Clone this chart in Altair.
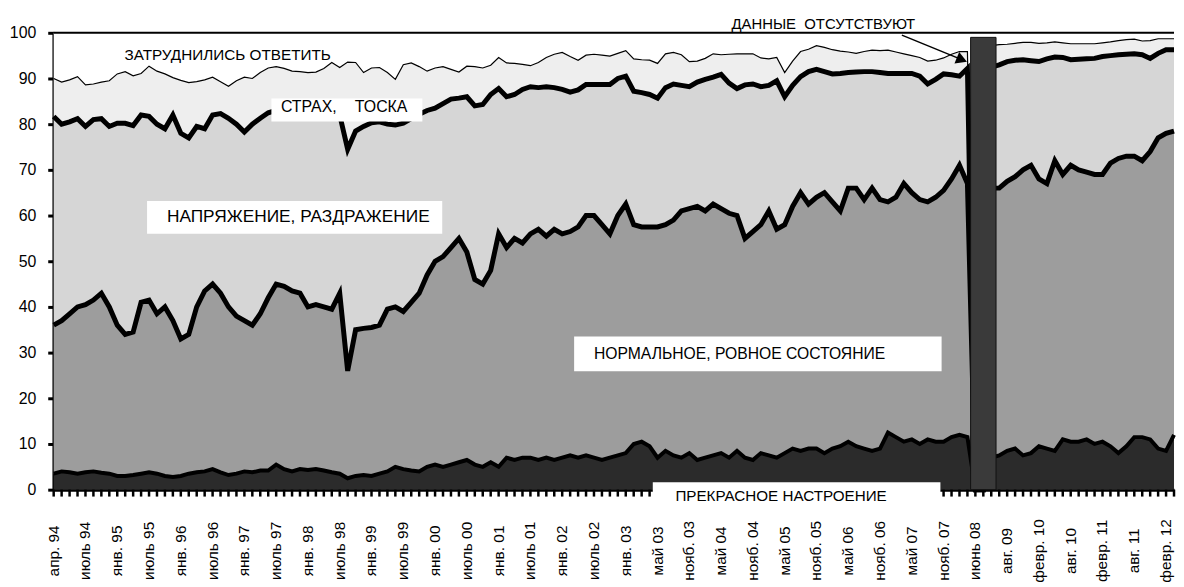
import altair as alt
import pandas as pd

labels = ["апр. 94", "июль 94", "янв. 95", "июль 95", "янв. 96", "июль 96", "янв. 97", "июль 97",
          "янв. 98", "июль 98", "янв. 99", "июль 99", "янв. 00", "июль 00", "янв. 01", "июль 01",
          "янв. 02", "июль 02", "янв. 03", "май 03", "нояб. 03", "май 04", "нояб. 04", "май 05",
          "нояб. 05", "май 06", "нояб. 06", "май 07", "нояб. 07", "июнь 08", "авг. 09", "февр. 10",
          "авг. 10", "февр. 11", "авг. 11", "февр. 12"]

# cumulative boundaries (percent), one value per survey
excellent_top = [3.5, 4, 3.8, 3.5, 3.8, 4, 3.7, 3.5, 3, 3, 3.2,
                 3.5, 3.8, 3.5, 3, 2.8, 3, 3.5, 3.8, 4, 4.5,
                 3.8, 3.2, 3.5, 4, 3.8, 4.2, 4.2, 5.5, 4.5, 4,
                 4.5, 4.3, 4.5, 4.2, 3.8, 3.5, 2.5, 3, 3.2, 3,
                 3.5, 4, 5, 4.5, 4.2, 4, 5, 5.5, 5, 5.5,
                 6, 6.5, 5.5, 5, 6, 5, 7, 6.5, 7, 7,
                 6.5, 7, 6.5, 7, 7.5, 7, 7.5, 7, 6.5, 7,
                 7.5, 8, 10, 10.5, 9.5, 7, 8.5, 7.5, 7, 8,
                 6.5, 7, 7.5, 8, 7, 8.5, 7, 6.5, 8, 7.5,
                 7, 8, 9, 8.5, 9, 9, 8, 9, 9.5, 10.5,
                 9.5, 9, 8.5, 9, 12.5, 11.5, 10.5, 11, 10, 11,
                 10.5, 10.5, 11.5, 12, 11.5, 0, 0,
                 7, 7.5, 8.5, 9, 7.5, 8, 9.5, 9, 8.5, 11, 10.5, 10.5,
                 11, 10, 10.5, 9.5, 8, 9.5, 11.5, 11.5, 11, 9, 8.5, 12]

normal_top = [36, 37, 38.5, 40, 40.5, 41.5, 43, 40, 36, 34,
              34.5, 41, 41.5, 38.5, 40, 37, 33, 34, 40, 43.5,
              45, 43, 40, 38, 37, 36, 38.5, 42, 45, 44.5,
              43.5, 43, 40, 40.5, 40, 39.5, 43, 26, 35, 35.3,
              35.5, 36, 39.5, 40, 39, 41, 43, 47, 50, 51,
              53, 55, 52, 46, 45, 48, 56, 53, 55, 54,
              56, 57, 55.5, 57, 56, 56.5, 57.5, 60, 60, 58,
              56, 60, 62.5, 58, 57.5, 57.5, 57.5, 58, 59, 61,
              61.5, 62, 61, 62.5, 61.5, 60.5, 60, 55, 56.5, 58,
              61, 57, 58, 62, 65, 62.5, 64, 65, 63, 61,
              66, 66, 63.5, 66, 63.5, 63, 64, 67, 65, 63.5,
              63, 64, 65.5, 68, 71, 67, 0, 0, 66, 66,
              67.5, 68.5, 70, 71, 68, 67, 72, 69, 71, 70,
              69.5, 69, 69, 71.5, 72.5, 73, 73, 72, 74, 77,
              78, 78.5]

tension_top = [81.7, 80, 80.5, 81.2, 79.5, 81, 81.2, 79.5, 80.2, 80.2,
               79.7, 82, 81.7, 80, 79, 82, 78, 77, 79.5, 79,
               82, 82.3, 81.3, 80, 78.3, 80, 81.3, 82.5, 83, 83.5,
               84, 83, 84, 83.5, 84, 83, 82, 74.5, 78.5, 79.5,
               80.3, 80.5, 80, 79.8, 80.2, 81.2, 82.2, 83, 83.5, 84.5,
               85.5, 85.7, 86, 84, 84.3, 86.5, 87.8, 86, 86.5, 87.6,
               88.2, 88, 88.2, 88, 87.6, 87, 87.5, 88.7, 88.7, 88.7,
               88.7, 90, 90.5, 87.2, 86.9, 86.5, 85.7, 88, 88.8, 88.5,
               88.2, 89.2, 89.8, 90.3, 90.9, 89, 87.8, 88.6, 88.8, 88.2,
               88.5, 89.5, 86, 88.5, 90.4, 91.5, 92, 91.5, 91, 91.1,
               91.3, 91.4, 91.5, 91.5, 91.3, 91.1, 91.1, 91.1, 91.1, 90.5,
               88.8, 89.8, 91, 90.8, 90.5, 92.2, 0, 0, 92.5, 93,
               93.7, 94, 94.1, 93.9, 93.7, 94.3, 94.7, 94.6, 94.1, 94.2,
               94.3, 94.4, 94.8, 95, 95.2, 95.3, 95.4, 95.2, 94.4, 95.5,
               96.3, 96.3]

fear_top = [90, 89.2, 89.7, 90.4, 88.6, 88.8, 89.2, 89.5, 91, 91.5,
            90.6, 91.1, 92.7, 91.6, 91, 90.2, 89.6, 89.1, 89.3, 89.7,
            90.3, 89.3, 88.3, 89.5, 90.3, 90, 91.3, 92.3, 92.6, 92.2,
            91.6, 91.5, 91.3, 91.4, 92.2, 93.5, 92.4, 93.6, 93.5, 91.3,
            92.3, 92.4, 91.3, 89.8, 93, 93.4, 92.6, 91.6, 92.3, 92.6,
            92, 91.4, 92.7, 92.6, 92.3, 92.9, 94.6, 93.4, 93.3, 93.1,
            92.8, 93.5, 94.6, 95.3, 95.7, 94.8, 94, 95.1, 95.3, 95.1,
            94.9, 95.5, 96.1, 94.3, 94.1, 94, 93.3, 95.4, 95.7, 95.2,
            93.7, 93.8, 94.4, 95.4, 95.2, 95.3, 95.4, 95.4, 95.4, 94.5,
            94.3, 94.6, 91.3, 93.8, 95.9, 96.4, 97.2, 96.8, 96.3, 96,
            95.8, 95.5, 95.9, 96.2, 96.1, 96.2, 95.8, 95.4, 95, 94.6,
            93.8, 94, 94.5, 95.3, 95.9, 95.9, 0, 0, 97.2, 97.4,
            97.5, 97.7, 97.9, 97.9, 97.7, 97.8, 98, 97.8, 97.6, 97.6,
            97.6, 97.6, 97.8, 98, 98.3, 98.5, 98.6, 98.2, 98.3, 98.7,
            98.7, 98.7]

n = len(normal_top)
assert len(excellent_top) == n and len(tension_top) == n and len(fear_top) == n

df = pd.DataFrame({
    "idx": list(range(n)),
    "zero": [0] * n,
    "p": excellent_top,
    "nrm": normal_top,
    "t": tension_top,
    "s": fear_top,
    "top": [100] * n,
})

label_df = pd.DataFrame({
    "idx": [4 * k for k in range(len(labels))],
    "label": labels,
    "ly": [-13.4] * len(labels),
})

FONT = "Liberation Sans, Arial, Helvetica, sans-serif"

xscale = alt.Scale(domain=[0, n - 1], nice=False, zero=False)
yscale = alt.Scale(domain=[0, 100], nice=False, zero=False)

xaxis = alt.Axis(labels=False, ticks=False, domainColor="black", domainWidth=3,
                 grid=False, title=None)
yaxis = alt.Axis(values=list(range(0, 101, 10)), labelFont=FONT, labelFontSize=16,
                 labelColor="black", labelPadding=12, tickSize=6, tickWidth=3,
                 tickColor="black", domainColor="black", domainWidth=3.5, grid=False,
                 title=None)

base = alt.Chart(df)


def band(lo, hi, color):
    return base.mark_area(color=color, opacity=1, interpolate="linear").encode(
        x=alt.X("idx:Q", scale=xscale, axis=xaxis),
        y=alt.Y(f"{lo}:Q", scale=yscale, axis=yaxis),
        y2=alt.Y2(f"{hi}:Q"),
    )


def line(field, width):
    return base.mark_line(color="black", strokeWidth=width, strokeJoin="miter").encode(
        x=alt.X("idx:Q", scale=xscale),
        y=alt.Y(f"{field}:Q", scale=yscale),
    )


areas = [
    band("s", "top", "#ffffff"),
    band("t", "s", "#eeeeee"),
    band("nrm", "t", "#d6d6d6"),
    band("p", "nrm", "#9d9d9d"),
    band("zero", "p", "#2b2b2b"),
]
lines = [line("s", 1.2), line("t", 5), line("nrm", 5), line("p", 4)]

# category tick marks under the x axis (drawn as small vertical ticks)
xticks = base.mark_tick(color="black", orient="vertical", thickness=2.5, size=7,
                        opacity=1).encode(
    x=alt.X("idx:Q", scale=xscale),
    y=alt.Y("tk:Q", scale=yscale)).transform_calculate(tk="-0.75")

xlabels = alt.Chart(label_df).mark_text(angle=270, align="center", baseline="middle",
                                        font=FONT, fontSize=15.5, color="black").encode(
    x=alt.X("idx:Q", scale=xscale), y=alt.Y("ly:Q", scale=yscale), text="label:N")

top_rule = alt.Chart(pd.DataFrame({"v": [100]})).mark_rule(color="black", strokeWidth=2).encode(
    y=alt.Y("v:Q", scale=yscale))

gap = alt.Chart(pd.DataFrame({"x1": [115.4], "x2": [118.6], "y1": [0], "y2": [99]})).mark_rect(
    color="#3a3a3a", stroke="#111111", strokeWidth=1).encode(
    x=alt.X("x1:Q", scale=xscale), x2="x2:Q", y=alt.Y("y1:Q", scale=yscale), y2="y2:Q")

boxes_df = pd.DataFrame({
    "x1": [27.4, 11.75, 65.5, 75.4],
    "x2": [46.4, 48.9, 111.75, 111.6],
    "y1": [80.6, 56.0, 25.9, -6.5],
    "y2": [85.6, 63.2, 33.5, 1.6],
})
boxes = alt.Chart(boxes_df).mark_rect(color="white").encode(
    x=alt.X("x1:Q", scale=xscale), x2="x2:Q", y=alt.Y("y1:Q", scale=yscale), y2="y2:Q")

texts_df = pd.DataFrame({
    "label": ["ЗАТРУДНИЛИСЬ ОТВЕТИТЬ", "СТРАХ,", "ТОСКА", "НАПРЯЖЕНИЕ, РАЗДРАЖЕНИЕ",
              "НОРМАЛЬНОЕ, РОВНОЕ СОСТОЯНИЕ", "ПРЕКРАСНОЕ НАСТРОЕНИЕ",
              "ДАННЫЕ\u00a0\u00a0ОТСУТСТВУЮТ"],
    "x": [8.9, 28.6, 37.9, 14.25, 68.0, 78.25, 85.3],
    "y": [95.1, 83.7, 83.7, 59.7, 29.6, -1.4, 102.0],
    "fs": [15.4, 16, 16, 17.4, 15.8, 15.3, 15.0],
})
texts = alt.Chart(texts_df).mark_text(align="left", baseline="middle", font=FONT,
                                      color="black").encode(
    x=alt.X("x:Q", scale=xscale), y=alt.Y("y:Q", scale=yscale), text="label:N",
    size=alt.Size("fs:Q", scale=None, legend=None))

arrow_line = alt.Chart(pd.DataFrame({"x1": [106.75], "y1": [99.5], "x2": [114.6], "y2": [93.9]})).mark_rule(
    color="black", strokeWidth=1.5).encode(
    x=alt.X("x1:Q", scale=xscale), y=alt.Y("y1:Q", scale=yscale), x2="x2:Q", y2="y2:Q")
arrow_head = alt.Chart(pd.DataFrame({"x": [114.3], "y": [94.1]})).mark_point(
    shape="triangle-right", filled=True, color="black", size=160, angle=22, opacity=1).encode(
    x=alt.X("x:Q", scale=xscale), y=alt.Y("y:Q", scale=yscale))

chart = alt.layer(*areas, *lines, xticks, xlabels, top_rule, gap, boxes, texts,
                  arrow_line, arrow_head).properties(
    width=1128, height=460,
    autosize=alt.AutoSizeParams(type="none"),
    padding={"left": 46, "top": 23, "right": 2, "bottom": 92},
    background="white",
).configure_view(stroke=None)

chart.save("out.html", embed_options={"renderer": "svg", "actions": False})
